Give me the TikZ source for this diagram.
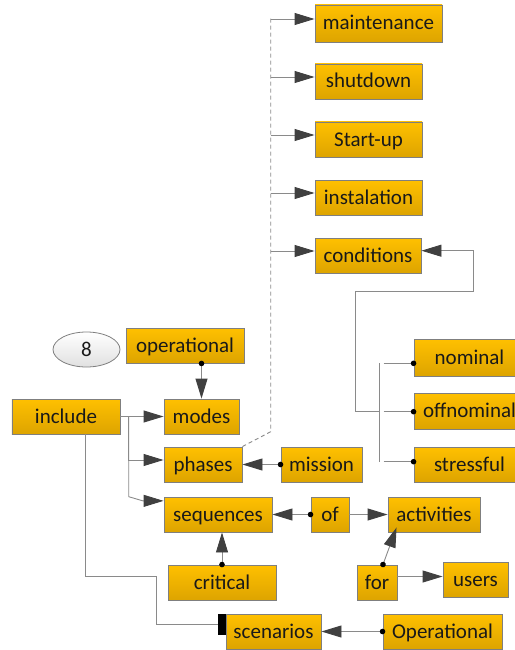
\documentclass[tikz,border=0pt]{standalone}
\usepackage{fontspec}
\setmainfont{Carlito}
\usetikzlibrary{arrows.meta,calc,shapes.geometric}
\definecolor{boxtop}{HTML}{FFC000}
\definecolor{boxbot}{HTML}{DDA400}
\definecolor{boxline}{HTML}{7F7F7F}
\definecolor{wiregray}{HTML}{8A8A8A}
\definecolor{tipgray}{HTML}{404040}

\tikzset{
  box/.style={draw=boxline, line width=0.9bp, top color=boxtop, bottom color=boxbot,
    minimum height=35bp, inner sep=0pt, text=black!90,
    text height=15bp, text depth=2bp,
    font=\fontsize{21bp}{25bp}\selectfont},
  oval/.style={ellipse, draw=boxline, line width=0.8bp, top color=white, bottom color=black!12,
    minimum width=67bp, minimum height=35bp, inner sep=0pt, text=black!90,
    text height=15bp, text depth=2bp,
    font=\fontsize{21bp}{25bp}\selectfont},
  wire/.style={draw=wiregray, line width=0.9bp},
  spine/.style={draw=wiregray, line width=0.9bp, dash pattern=on 4bp off 3bp},
  tip/.style={-{Triangle[length=20bp,width=12bp,color=tipgray]}},
  dottip/.style={{Circle[length=5.5bp,color=black]}-{Triangle[length=20bp,width=12bp,color=tipgray]},
    shorten <=-2.75bp},
  dotend/.style={-{Circle[length=5.5bp,color=black]}, shorten >=-2.75bp},
  barend/.style={-{Rectangle[length=8bp,width=21bp,color=black]}},
}

\begin{document}
\begin{tikzpicture}[x=1bp,y=-1bp]
\useasboundingbox (0,0) rectangle (515,650);
\clip (0,0) rectangle (515,650);

% upper column of kinds of phases
\node[box, minimum width=127bp, minimum height=37bp] (maint) at (378.5,23.5) {maintenance};
\node[box, minimum width=107bp] (shut)  at (368.5,81.5)  {shutdown};
\node[box, minimum width=107bp] (start) at (368.5,139.5) {Start-up};
\node[box, minimum width=107bp] (inst)  at (368.5,197.5) {instalation};
\node[box, minimum width=106bp] (cond)  at (368,255.5)   {conditions};

% condition kinds
\node[box, minimum width=111bp, minimum height=37bp] (nom)  at (469.5,357.5) {nominal};
\node[box, minimum width=111bp, minimum height=36bp] (off)  at (469.5,411)   {offnominal};
\node[box, minimum width=111bp] (stress) at (469.5,464.5) {stressful};

% middle part
\node[oval] (eight) at (86.5,349.5) {8};
\node[box, minimum width=118bp] (oper)  at (185,345.5)   {operational};
\node[box, minimum width=108bp] (incl)  at (66,416.5)    {include};
\node[box, minimum width=75bp]  (modes) at (201.5,416.5) {modes};
\node[box, minimum width=78bp]  (phases) at (203,464.5)  {phases};
\node[box, minimum width=81bp]  (mission) at (321.5,464.5) {mission};
\node[box, minimum width=108bp] (seq)   at (218,514.5)   {sequences};
\node[box, minimum width=38bp]  (of)    at (330,514.5)   {of};
\node[box, minimum width=92bp]  (act)   at (434,514.5)   {activities};
\node[box, minimum width=108bp] (crit)  at (222,582.5)   {critical};
\node[box, minimum width=40bp]  (for)   at (377,582.5)   {for};
\node[box, minimum width=65bp]  (users) at (475.5,579.5) {users};
\node[box, minimum width=95bp]  (scen)  at (273.5,631.5) {scenarios};
\node[box, minimum width=119bp] (Oper)  at (442.5,631.5) {Operational};

% dashed spine from phases to its kinds
\coordinate (spT) at (270.7,17.7);
\coordinate (spB) at (270.7,431.7);
\path[spine] (phases.north east) -- (spB) -- (spT);
\foreach \n in {maint,shut,start,inst,cond}{
  \coordinate (\n in) at ([yshift=4.5bp]\n.west);
  \draw[wire,tip] (spT |- \n in) -- (\n in);
}

% include fan-out
\coordinate (hubA) at ($(incl.east)+(8.3,0)$);
\coordinate (hubB) at ($(hubA)+(0,80.2)$);
\coordinate (seqbend) at ($(seq.north west)+(-20.7,4.3)$);
\coordinate (seqin) at ($(seq.north west)+(0,4.3)$);
\coordinate (phin) at ([yshift=4.5bp]phases.west);
\draw[wire,tip] (incl.east) -- (hubA) -- (hubA -| modes.west);
\draw[wire,tip] (hubA) |- (phin);
\draw[wire,tip] (hubA) -- (hubB) -- (seqbend) -- (seqin);

% include down to scenarios
\coordinate (inclout) at ([xshift=19bp]incl.south);
\coordinate (scenin) at ([yshift=7.5bp]scen.west);
\draw[wire,barend] (inclout) -- ++(0,142) -| ($(scenin)+(-69,0)$) -- (scenin);

% dotted-source arrows
\draw[wire,dottip] (oper.south -| modes.north) -- (modes.north);
\draw[wire,dottip] (mission.west) -- (phases.east);
\draw[wire,dottip] (of.west) -- (seq.east);
\draw[wire,tip] (of.east) -- (act.west);
\draw[wire,dottip] (crit.north) -- (crit.north |- seq.south);
\draw[wire,dottip] ([xshift=6bp]for.north) -- ($(act.south west)+(9,-5)$);
\coordinate (forout) at ([yshift=6bp]for.east);
\draw[wire,tip] (forout) -- (forout -| users.west);
\draw[wire,dottip] (Oper.west) -- (scen.east);

% condition kinds gathered into conditions
\coordinate (brT) at (379.3,363.3);
\coordinate (brB) at (379.3,461.7);
\coordinate (brM) at (379.3,411.7);
\draw[wire] (brT) -- (brB);
\draw[wire,dotend] (383.5,363.3) -- (383.5,363.3 -| nom.west);
\draw[wire,dotend] (383.5,411.7) -- (383.5,411.7 -| off.west);
\draw[wire,dotend] (383.5,461.7) -- (383.5,461.7 -| stress.west);
\coordinate (condin) at ([yshift=4.8bp]cond.east);
\draw[wire,tip] (brM) -- (355.7,411.7) -- (355.7,291.7) -- (473,291.7) |- (condin);
\end{tikzpicture}
\end{document}
